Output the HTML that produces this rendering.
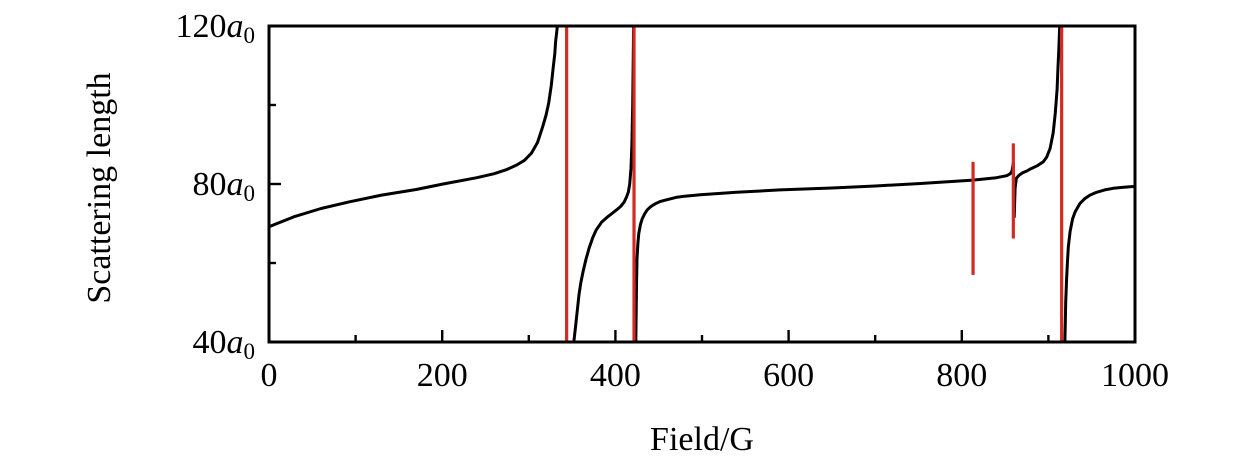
<!DOCTYPE html>
<html><head><meta charset="utf-8"><style>
body{margin:0;background:#fff;}
svg text{font-family:"Liberation Serif",serif;fill:#000;}
</style></head><body>
<svg id="chart" width="1260" height="465" xmlns="http://www.w3.org/2000/svg"></svg>
<script>
// Data
const xTicks=[0,200,400,600,800,1000];
const xMinor=[100,300,500,700,900];
const yTicks=[40,80,120];
const yMinor=[60,100];
const branch1X=[0,30,60,93,130,170,201,240,260,275,286,295,303,310,316,320,323,326,328,330,331,332,333];
const branch1Y=[69.2,71.8,73.8,75.5,77.2,78.6,80,81.6,82.6,83.7,84.8,86,87.8,90.5,94.5,97.5,100.5,105,109,113,116,118,120];
const branch2X=[352,354,356,358,360,363,366,370,374,378,384,390,396,401,406,410,413,415,416.5,418,419,420,421];
const branch2Y=[40,44,48,52,55,58.2,61,64,66.5,68.4,70.3,71.5,72.5,73.4,74.3,75.4,76.8,78,80,84,90,100,120];
const branch3X=[423.5,424,424.5,425,426,427,429,431,434,437,441,446,452,459,470,480,498,540,590,650,700,750,813,840,852,856,858,859.5,860.5,861.5,863,866,870,875,880,887,894,898,902,905.5,908,910,911,912,913];
const branch3Y=[40,48,56,61,65,67.5,69.8,71.2,72.5,73.5,74.3,75,75.6,76,76.6,76.9,77.3,77.9,78.5,79,79.5,80.1,81,81.6,82.1,82.6,83.3,85.3,71.7,79,81.5,82.2,82.8,83.3,83.9,84.6,85.6,86.8,89,93,98,104,109,114,120];
const branch4X=[919,920,921,922,923,925,928,931,936.5,942,948,955.7,965,975,987,1000];
const branch4Y=[40,50,56,60.5,64,68,71.2,73,75.1,76.3,77.2,77.9,78.5,78.9,79.2,79.4];
const redX=[343.7,421.5,813,859.5,915.3];
const redTop=[120,120,85.6,90.3,120];
const redBottom=[40,40,57,66.2,40];

const L=269,R=1135,T=26,B=342;
const xs=v=>L+(v-0)/(1000-0)*(R-L);
const ys=v=>B-(v-40)/(120-40)*(B-T);
const svg=document.getElementById('chart');
const NS='http://www.w3.org/2000/svg';
function mk(tag,attrs){const e=document.createElementNS(NS,tag);for(const k in attrs)e.setAttribute(k,attrs[k]);svg.appendChild(e);return e;}

const defs=mk('defs',{});
const cp=document.createElementNS(NS,'clipPath');cp.setAttribute('id','clip');
const cr=document.createElementNS(NS,'rect');cr.setAttribute('x',L);cr.setAttribute('y',T);cr.setAttribute('width',R-L);cr.setAttribute('height',B-T);
cp.appendChild(cr);defs.appendChild(cp);

[[branch1X,branch1Y],[branch2X,branch2Y],[branch3X,branch3Y],[branch4X,branch4Y]].forEach((b,i)=>{
  const d=b[0].map((x,j)=>(j?'L':'M')+xs(x).toFixed(1)+' '+ys(b[1][j]).toFixed(1)).join(' ');
  const p=mk('path',{d:d,fill:'none',stroke:'#000','stroke-width':3,'stroke-linejoin':'round','clip-path':'url(#clip)'});
  
  
});
redX.forEach((x,i)=>{
  const l=mk('line',{x1:xs(x),x2:xs(x),y1:ys(redTop[i]),y2:ys(redBottom[i]),stroke:'#d42a24','stroke-width':3.2,'clip-path':'url(#clip)'});
  
  
});

const fr=mk('rect',{x:L,y:T,width:R-L,height:B-T,fill:'none',stroke:'#000','stroke-width':3});



xTicks.forEach(v=>{
  const t=mk('line',{x1:xs(v),x2:xs(v),y1:B,y2:B-12,stroke:'#000','stroke-width':2.4});
  
  
  const tx=mk('text',{x:xs(v),y:B+44,'text-anchor':'middle','font-size':34});
  tx.textContent=v;
  
  
});
xMinor.forEach(v=>{
  const t=mk('line',{x1:xs(v),x2:xs(v),y1:B,y2:B-7,stroke:'#000','stroke-width':2.4});
  
  
});
yTicks.forEach(v=>{
  const t=mk('line',{x1:L,x2:L+12,y1:ys(v),y2:ys(v),stroke:'#000','stroke-width':2.4});
  
  
  const tx=mk('text',{x:L-14,y:ys(v)+11,'text-anchor':'end','font-size':34});
  tx.innerHTML=v+'<tspan font-style="italic">a</tspan><tspan font-size="23" dy="6">0</tspan>';
  
  
});
yMinor.forEach(v=>{
  const t=mk('line',{x1:L,x2:L+7,y1:ys(v),y2:ys(v),stroke:'#000','stroke-width':2.4});
  
  
});
const xt=mk('text',{x:702,y:450,'text-anchor':'middle','font-size':34});
xt.textContent='Field/G';


const yt=mk('text',{x:0,y:0,'text-anchor':'middle','font-size':34,transform:'translate(110,188) rotate(-90)'});
yt.textContent='Scattering length';


</script>
</body></html>
